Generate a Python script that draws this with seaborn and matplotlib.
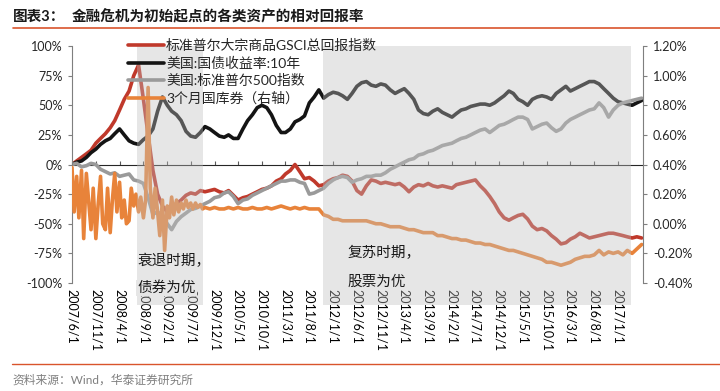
import matplotlib
matplotlib.use('Agg')
import matplotlib.pyplot as plt
import matplotlib.dates as mdates
import matplotlib.ticker as mticker
import matplotlib.transforms as mtransforms
from matplotlib.patches import Rectangle
from matplotlib.lines import Line2D
import pandas as pd
import seaborn as sns

# ---- 数据----
# 左轴系列：月度，2007/6 - 2017/6，单位 %
months = pd.date_range('2007-06-01', '2017-06-01', freq='MS')

gsci = [0, 3, 6, 9, 12, 18, 22, 26, 31, 37, 46, 55, 62, 75, 84, 55, 25, -5, -25, -35,
        -40, -38, -33, -30, -26, -24, -25, -22, -23, -22, -21, -23, -24, -22, -26, -30, -28, -27, -25, -23,
        -21, -20, -18, -14, -12, -8, -5, 0, -6, -12, -11, -14, -18, -17, -14, -12, -11, -9, -10, -14,
        -22, -25, -18, -13, -14, -16, -15, -16, -17, -16, -19, -23, -19, -17, -18, -16, -18, -19, -18, -19,
        -20, -17, -16, -15, -14, -13, -18, -22, -27, -33, -40, -45, -47, -45, -43, -42, -46, -52, -55, -54,
        -56, -60, -63, -67, -66, -63, -61, -58, -60, -62, -61, -60, -59, -58, -58, -59, -60, -61, -62, -61,
        -62]

ust10y = [0, 2, 3, 6, 10, 13, 17, 20, 22, 26, 30, 25, 20, 18, 17, 21, 24, 30, 45, 57,
          50, 45, 42, 37, 28, 24, 23, 27, 32, 30, 27, 24, 23, 25, 22, 22, 30, 37, 42, 48,
          50, 48, 42, 33, 27, 27, 30, 36, 38, 41, 52, 57, 63, 56, 59, 61, 60, 58, 55, 60,
          66, 69, 70, 67, 66, 68, 67, 63, 60, 62, 64, 60, 55, 46, 43, 42, 45, 47, 44, 42,
          40, 43, 46, 47, 49, 50, 51, 51, 50, 52, 55, 58, 62, 60, 55, 53, 50, 55, 57, 58,
          57, 55, 60, 63, 66, 62, 64, 66, 68, 70, 70, 68, 64, 60, 56, 53, 52, 51, 50, 52,
          54]

spx = [0, 1, -2, -1, 1, 0, -4, -6, -8, -7, -10, -9, -8, -13, -14, -16, -28, -42, -40, -43,
       -50, -55, -48, -44, -41, -38, -37, -35, -33, -31, -28, -27, -24, -23, -27, -33, -30, -29, -26, -24,
       -22, -20, -18, -16, -14, -14, -13, -13, -15, -16, -25, -24, -22, -20, -16, -13, -11, -10, -11, -15,
       -13, -12, -10, -10, -9, -9, -7, -4, -2, 0, 2, 4, 5, 8, 9, 11, 12, 14, 16, 17,
       18, 20, 22, 23, 25, 27, 29, 30, 27, 30, 33, 34, 36, 38, 40, 40, 38, 30, 32, 34,
       35, 31, 28, 30, 35, 38, 40, 42, 44, 46, 47, 52, 48, 40, 46, 50, 52, 53, 54, 55,
       56]

# 右轴系列：3个月国库券，前段半月度、后段月度，单位 %
tbill_dates = pd.date_range('2007-06-01', '2009-10-01', freq='SMS').append(
    pd.date_range('2009-11-01', '2017-06-01', freq='MS'))
tbill = [0.38, 0.08, 0.32, 0.04, 0.36, -0.10, 0.34, 0.16, -0.04, 0.24, -0.10, 0.12, 0.32, 0.00, -0.04,
         0.24, -0.06, 0.16, 0.34, 0.08, 0.28, 0.04, 0.16, 0.00, 0.02, 0.24, 0.12, 0.20, 0.08, 0.18,
         0.04, 0.16, 0.92, 0.24, 0.04, 0.24, 0.08, -0.08, 0.16, -0.18, 0.12, 0.04, 0.18, 0.06, 0.16,
         0.08, 0.14, 0.10, 0.16, 0.11, 0.14, 0.10, 0.14, 0.11, 0.13, 0.10, 0.11,
         0.10, 0.11, 0.10, 0.10, 0.11, 0.10, 0.11, 0.10, 0.10, 0.11, 0.10, 0.10, 0.11, 0.10, 0.11, 0.12,
         0.11, 0.10, 0.11, 0.10, 0.11, 0.10, 0.10, 0.10, 0.06, 0.05, 0.03, 0.03, 0.02, 0.02, 0.02, 0.02,
         0.02, 0.02, 0.01, 0.00, 0.00, -0.01, -0.02, -0.02, -0.02, -0.03, -0.04, -0.04, -0.05, -0.06, -0.06,
         -0.06, -0.08, -0.08, -0.09, -0.10, -0.10, -0.11, -0.11, -0.12, -0.13, -0.13, -0.14, -0.14, -0.15,
         -0.16, -0.17, -0.18, -0.18, -0.19, -0.20, -0.21, -0.22, -0.23, -0.24, -0.26, -0.26, -0.27, -0.28,
         -0.27, -0.26, -0.24, -0.23, -0.22, -0.22, -0.21, -0.18, -0.21, -0.19, -0.20, -0.19, -0.21, -0.18,
         -0.20, -0.17, -0.14]

names = ['标准普尔大宗商品GSCI总回报指数', '美国:国债收益率:10年', '美国:标准普尔500指数', '3个月国库券（右轴）']
colors = ['#C0392B', '#141414', '#9A9A9A', '#E8833A']

# 阴影区间：衰退期、复苏期
recession = ('2008-07-20', '2009-09-18')
recovery = ('2011-10-28', '2017-03-28')

df = pd.DataFrame({'date': months, 'gsci': gsci, 'ust10y': ust10y, 'spx': spx})
df_t = pd.DataFrame({'date': tbill_dates, 'tbill': tbill})

# ---- 作图 ----
sns.set_style('white')
plt.rcParams['font.family'] = ['Lato', 'Noto Sans CJK SC', 'DejaVu Sans']
plt.rcParams['axes.unicode_minus'] = False

fig = plt.figure(figsize=(7.2, 3.91), dpi=100)
ax = fig.add_axes([0.1, 0.2762, 0.7931, 0.6061])
ax2 = ax.twinx()

lw = 2.6
sns.lineplot(data=df, x='date', y='gsci', ax=ax, color=colors[0], lw=lw, label=names[0])
sns.lineplot(data=df, x='date', y='ust10y', ax=ax, color=colors[1], lw=lw, label=names[1])
sns.lineplot(data=df, x='date', y='spx', ax=ax, color=colors[2], lw=lw, label=names[2])
sns.lineplot(data=df_t, x='date', y='tbill', ax=ax2, color=colors[3], lw=lw, label=names[3])

ax.set_xlim(pd.Timestamp('2007-06-01'), pd.Timestamp('2017-06-10'))
ax.set_ylim(-100, 100)
ax2.set_ylim(-0.4, 1.2)
ax.set_xlabel('')
ax.set_ylabel('')
ax2.set_ylabel('')

ax.set_yticks(range(-100, 101, 25))
ax.yaxis.set_major_formatter(mticker.FuncFormatter(lambda v, p: f'{v:.0f}%'))
ax2.set_yticks([-0.4 + 0.2 * i for i in range(9)])
ax2.yaxis.set_major_formatter(mticker.FuncFormatter(lambda v, p: f'{v:.2f}%'))

# x 轴刻度：每 5 个月
ticks = pd.date_range('2007-06-01', '2017-01-01', freq='5MS')
ax.set_xticks(ticks)
ax.set_xticklabels([f'{d.year}/{d.month}/{d.day}' for d in ticks], rotation=-90, va='top', ha='center')
ax.tick_params(axis='x', length=0, pad=4, labelsize=9, labelcolor='black')

axis_c = '#7F7F7F'
for s in ['top', 'right', 'bottom']:
    ax.spines[s].set_visible(False)
for s in ['top', 'left', 'bottom']:
    ax2.spines[s].set_visible(False)
ax.spines['left'].set_color(axis_c)
ax2.spines['right'].set_color(axis_c)
ax.tick_params(axis='y', left=True, length=3, color=axis_c, labelsize=9, pad=4)
ax2.tick_params(axis='y', right=True, length=3, color=axis_c, labelsize=9, pad=4)

# 零轴线及刻度
sec = ax.secondary_xaxis(0.5)
sec.set_xticks(ticks)
sec.tick_params(axis='x', length=3, direction='out', color='#595959', labelbottom=False, labeltop=False)
sec.spines['bottom'].set_color('#595959')
sec.spines['bottom'].set_linewidth(1.3)

# 阴影区（半透明，覆盖在线条上）
trans = mtransforms.blended_transform_factory(ax2.transData, ax2.transAxes)
for a, b in [recession, recovery]:
    x0 = mdates.date2num(pd.Timestamp(a))
    x1 = mdates.date2num(pd.Timestamp(b))
    ax2.add_patch(Rectangle((x0, -0.093), x1 - x0, 1.093, transform=trans, facecolor='#BFBFBF',
                            alpha=0.39, edgecolor='none', clip_on=False, zorder=5))

# 图例
for a in (ax, ax2):
    if a.get_legend():
        a.get_legend().remove()
h1, l1 = ax.get_legend_handles_labels()
h2, l2 = ax2.get_legend_handles_labels()
leg = fig.legend(h1 + h2, l1 + l2, loc='upper left', bbox_to_anchor=(128 / 720, 1 - 39 / 391),
                 frameon=False, fontsize=10, handlelength=2.6, handletextpad=0.15,
                 labelspacing=0.32, borderpad=0, borderaxespad=0)
leg.set_zorder(20)

# 标注文字
kw = dict(fontsize=10.5, va='center', ha='left', color='#1a1a1a', zorder=15)
fig.text(137 / 720, 1 - 261 / 391, '衰退时期，', **kw)
fig.text(137 / 720, 1 - 288 / 391, '债券为优', bbox=dict(facecolor='#E6E6E6', edgecolor='none', pad=1), **kw)
fig.text(347 / 720, 1 - 253 / 391, '复苏时期，', **kw)
fig.text(347 / 720, 1 - 282 / 391, '股票为优', **kw)

# 标题与来源
fig.text(13 / 720, 1 - 17 / 391, '图表3：', fontsize=10.5, fontweight='bold', va='center', color='#1a1a1a')
fig.text(72 / 720, 1 - 17 / 391, '金融危机为初始起点的各类资产的相对回报率', fontsize=10.5,
         fontweight='bold', va='center', color='#1a1a1a')
fig.add_artist(Line2D([13 / 720, 1.0], [1 - 28 / 391] * 2, transform=fig.transFigure, color='#D9542C', lw=1.2))
fig.add_artist(Line2D([12 / 720, 1.0], [1 - 364 / 391] * 2, transform=fig.transFigure, color='#D9542C', lw=1.0))
fig.text(12 / 720, 1 - 380 / 391, '资料来源：Wind，华泰证券研究所', fontsize=8.5, va='center', color='#7F7F7F')

fig.savefig('out.png', dpi=100)
